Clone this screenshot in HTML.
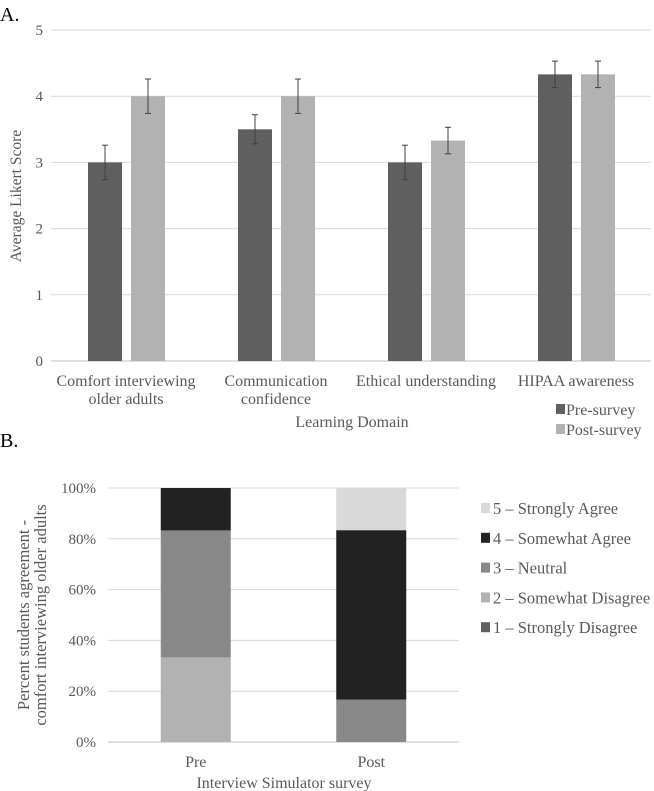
<!DOCTYPE html>
<html><head><meta charset="utf-8"><style>
html,body{margin:0;padding:0;background:#fff;}
svg{display:block;font-family:"Liberation Serif",serif;}
</style></head><body>
<svg width="654" height="791" viewBox="0 0 654 791">
<text x="0" y="21" font-size="20" fill="#000">A.</text>
<text x="0" y="447" font-size="20" fill="#000">B.</text>
<g id="chartA"></g>
<g id="chartB"></g>
</svg>
<script>
const NS="http://www.w3.org/2000/svg";
function mk(p,t,a){const e=document.createElementNS(NS,t);for(const k in a)e.setAttribute(k,a[k]);p.appendChild(e);return e;}

// Chart A data
const catsA=[["Comfort interviewing","older adults"],["Communication","confidence"],["Ethical understanding"],["HIPAA awareness"]];
const preA=[3,3.5,3,4.33];
const postA=[4,4,3.33,4.33];
const preErr=[0.26,0.22,0.26,0.2];
const postErr=[0.26,0.26,0.2,0.2];
const ticksA=[0,1,2,3,4,5];

// Chart B data
const catsB=["Pre","Post"];
const levelsB=["1 – Strongly Disagree","2 – Somewhat Disagree","3 – Neutral","4 – Somewhat Agree","5 – Strongly Agree"];
const colorsB=["#5f5f5f","#b2b2b2","#888888","#222222","#d9d9d9"];
const s1=[0,0];
const s2=[33.3,0];
const s3=[50,16.7];
const s4=[16.7,66.7];
const s5=[0,16.7];
const ticksB=[0,20,40,60,80,100];

(function(){
const g=document.getElementById('chartA');
const x0=51,x1=651,y0=361,y1=30;
const y=v=>y0-(y0-y1)*v/5;
const cw=(x1-x0)/catsA.length;
ticksA.forEach(t=>{
 const l=mk(g,'line',{x1:x0,x2:x1,y1:y(t),y2:y(t),stroke:t===0?'#bfbfbf':'#d9d9d9','stroke-width':1});
 
 const tx=mk(g,'text',{x:43,y:y(t)+5,'text-anchor':'end','font-size':15,fill:'#595959'});tx.textContent=t;
 
});
const yt=mk(g,'text',{transform:'translate(21,196) rotate(-90)','text-anchor':'middle','font-size':15.5,fill:'#595959'});yt.textContent='Average Likert Score';

catsA.forEach((c,i)=>{
 const cx=x0+cw*(i+0.5);
 [[preA,preErr,'#5f5f5f',cx-38,'pre'],[postA,postErr,'#b2b2b2',cx+5,'post']].forEach(([v,e,col,bx,n])=>{
  const r=mk(g,'rect',{x:bx,y:y(v[i]),width:34,height:y0-y(v[i]),fill:col});
  
  const ex=bx+17;
  const eg=mk(g,'g',{stroke:'#404040','stroke-width':1});
  
  mk(eg,'line',{x1:ex,x2:ex,y1:y(v[i]+e[i]),y2:y(v[i]-e[i])});
  mk(eg,'line',{x1:ex-3,x2:ex+3,y1:y(v[i]+e[i]),y2:y(v[i]+e[i])});
  mk(eg,'line',{x1:ex-3,x2:ex+3,y1:y(v[i]-e[i]),y2:y(v[i]-e[i])});
 });
 c.forEach((ln,j)=>{
  const t=mk(g,'text',{x:cx,y:386+j*18,'text-anchor':'middle','font-size':16,fill:'#595959'});t.textContent=ln;
  
 });
});
const xt=mk(g,'text',{x:352,y:427,'text-anchor':'middle','font-size':16,fill:'#595959'});xt.textContent='Learning Domain';

[['Pre-survey','#5f5f5f',415],['Post-survey','#b2b2b2',435]].forEach(([n,c,yy])=>{
 const lg=mk(g,'g',{});
 mk(lg,'rect',{x:556,y:yy-11,width:9,height:10,fill:c});
 const t=mk(lg,'text',{x:566,y:yy,'font-size':16,fill:'#595959'});t.textContent=n;
});
})();

(function(){
const g=document.getElementById('chartB');
const x0=108,x1=459,y0=742,y1=488;
const y=v=>y0-(y0-y1)*v/100;
ticksB.forEach(t=>{
 const l=mk(g,'line',{x1:x0,x2:x1,y1:y(t),y2:y(t),stroke:t===0?'#bfbfbf':'#d9d9d9','stroke-width':1});
 
 const tx=mk(g,'text',{x:96,y:y(t)+5,'text-anchor':'end','font-size':15,fill:'#595959'});tx.textContent=t+'%';
 
});
const series=[s1,s2,s3,s4,s5];
const cw=(x1-x0)/catsB.length;
catsB.forEach((c,i)=>{
 const cx=x0+cw*(i+0.5);
 let acc=0;
 series.forEach((s,k)=>{
  if(s[i]>0){
   const r=mk(g,'rect',{x:cx-35,y:y(acc+s[i]),width:70,height:y(acc)-y(acc+s[i]),fill:colorsB[k]});
   
  }
  acc+=s[i];
 });
 const t=mk(g,'text',{x:cx,y:767,'text-anchor':'middle','font-size':16,fill:'#595959'});t.textContent=c;
 
});
const xt=mk(g,'text',{x:284,y:788,'text-anchor':'middle','font-size':16,fill:'#595959'});xt.textContent='Interview Simulator survey';

[['Percent students agreement -',29],['comfort interviewing older adults',46]].forEach(([s,xx])=>{
 const t=mk(g,'text',{transform:'translate('+xx+',615) rotate(-90)','text-anchor':'middle','font-size':16.5,fill:'#595959'});t.textContent=s;
 
});
for(let k=4;k>=0;k--){
 const yy=514+(4-k)*29.8;
 const lg=mk(g,'g',{});
 mk(lg,'rect',{x:481,y:yy-11,width:9,height:10,fill:colorsB[k]});
 const t=mk(lg,'text',{x:493,y:yy,'font-size':16.5,fill:'#595959'});t.textContent=levelsB[k];
}
})();
</script>
</body></html>
